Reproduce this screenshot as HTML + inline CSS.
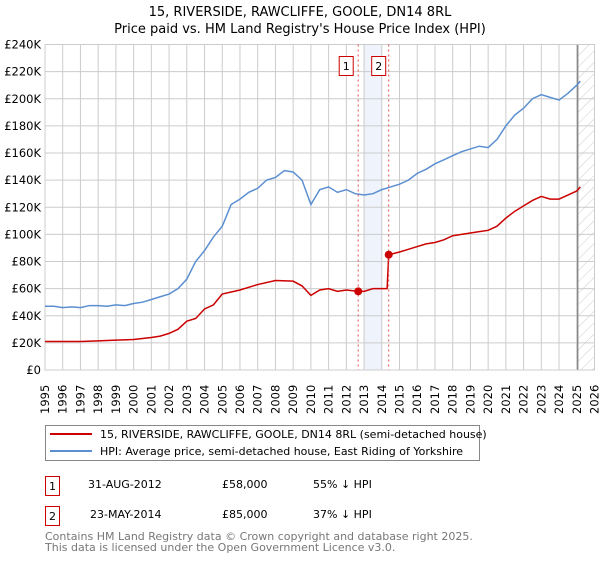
<!DOCTYPE html>
<html><head><meta charset="utf-8"><style>
body{margin:0;background:#fff;font-family:"Liberation Sans","DejaVu Sans",sans-serif;}
svg text{font-family:"DejaVu Sans","Liberation Sans",sans-serif;}
</style></head><body>
<svg id="chart" width="600" height="560" xmlns="http://www.w3.org/2000/svg">
<defs><pattern id="hatch" patternUnits="userSpaceOnUse" width="8" height="8" patternTransform="rotate(45)"><line x1="0" y1="0" x2="0" y2="8" stroke="#ccc" stroke-width="1"/></pattern></defs>
<text x="300" y="16" text-anchor="middle" font-size="13">15, RIVERSIDE, RAWCLIFFE, GOOLE, DN14 8RL</text>
<text x="300" y="33" text-anchor="middle" font-size="13">Price paid vs. HM Land Registry's House Price Index (HPI)</text>
<g id="grid"></g><g id="marks"></g>
<g>
<rect x="45.5" y="425.5" width="434" height="35" fill="#fff" stroke="#888"/>
<line x1="50" y1="434" x2="92" y2="434" stroke="#cc0000" stroke-width="2"/>
<text x="100" y="438" font-size="11">15, RIVERSIDE, RAWCLIFFE, GOOLE, DN14 8RL (semi-detached house)</text>
<line x1="50" y1="451" x2="92" y2="451" stroke="#5b8fd1" stroke-width="2"/>
<text x="100" y="455" font-size="11">HPI: Average price, semi-detached house, East Riding of Yorkshire</text>
</g>
<g font-size="11">
<rect x="45.5" y="476.5" width="14" height="19" fill="#fff" stroke="#cc0000"/><text x="52.5" y="490" text-anchor="middle">1</text>
<text x="88" y="488">31-AUG-2012</text><text x="222" y="488">£58,000</text><text x="313" y="488">55% ↓ HPI</text></g>
<g font-size="11">
<rect x="45.5" y="506.5" width="14" height="19" fill="#fff" stroke="#cc0000"/><text x="52.5" y="520" text-anchor="middle">2</text>
<text x="90" y="518">23-MAY-2014</text><text x="222" y="518">£85,000</text><text x="313" y="518">37% ↓ HPI</text></g>
<text x="45" y="540" font-size="11" fill="#777">Contains HM Land Registry data © Crown copyright and database right 2025.</text>
<text x="45" y="551" font-size="11" fill="#777">This data is licensed under the Open Government Licence v3.0.</text>
</svg>
<script>
const hpiYears=[1995,1995.5,1996,1996.5,1997,1997.5,1998,1998.5,1999,1999.5,2000,2000.5,2001,2001.5,2002,2002.5,2003,2003.5,2004,2004.5,2005,2005.5,2006,2006.5,2007,2007.5,2008,2008.5,2009,2009.5,2010,2010.5,2011,2011.5,2012,2012.5,2013,2013.5,2014,2014.5,2015,2015.5,2016,2016.5,2017,2017.5,2018,2018.5,2019,2019.5,2020,2020.5,2021,2021.5,2022,2022.5,2023,2023.5,2024,2024.5,2025,2025.2];
const hpiValues=[47,47,46,46.5,46,47.5,47.5,47,48,47.5,49,50,52,54,56,60,67,80,88,98,106,122,126,131,134,140,142,147,146,140,122,133,135,131,133,130,129,130,133,135,137,140,145,148,152,155,158,161,163,165,164,170,180,188,193,200,203,201,199,204,210,213];
const redYears=[1995,1996,1997,1998,1999,2000,2001,2001.5,2002,2002.5,2003,2003.5,2004,2004.5,2005,2006,2007,2008,2009,2009.5,2010,2010.5,2011,2011.5,2012,2012.67,2013,2013.5,2014.3,2014.39,2015,2015.5,2016,2016.5,2017,2017.5,2018,2018.5,2019,2019.5,2020,2020.5,2021,2021.5,2022,2022.5,2023,2023.5,2024,2024.5,2025,2025.2];
const redValues=[21,21,21,21.5,22,22.5,24,25,27,30,36,38,45,48,56,59,63,66,65.5,62,55,59,60,58,59,58,58,60,60,85,87,89,91,93,94,96,99,100,101,102,103,106,112,117,121,125,128,126,126,129,132,135];
const saleYears=[2012.67,2014.39];
const saleValues=[58,85];
const yTicks=[0,20,40,60,80,100,120,140,160,180,200,220,240];
const xTicks=[1995,1996,1997,1998,1999,2000,2001,2002,2003,2004,2005,2006,2007,2008,2009,2010,2011,2012,2013,2014,2015,2016,2017,2018,2019,2020,2021,2022,2023,2024,2025,2026];
const X0=45,X1=594.5,Y0=370,Y1=44.5;
const xs=y=>X0+(y-1995)/(2026-1995)*(X1-X0);
const ys=v=>Y0-v/240*(Y0-Y1);
const NS="http://www.w3.org/2000/svg";
function mk(p,t,a){const e=document.createElementNS(NS,t);for(const k in a)e.setAttribute(k,a[k]);p.appendChild(e);return e;}
const g=document.getElementById('grid'),m=document.getElementById('marks');
const sh=mk(g,'rect',{x:xs(2013),y:Y1,width:xs(2014)-xs(2013),height:Y0-Y1,fill:'#eef3fc'});


const ht=mk(g,'rect',{x:xs(2025.05),y:Y1,width:X1-xs(2025.05),height:Y0-Y1,fill:'url(#hatch)'});


yTicks.forEach(v=>{mk(g,'line',{x1:X0,x2:X1,y1:ys(v),y2:ys(v),stroke:'#ccc'});
const t=mk(g,'text',{x:X0-4,y:ys(v)+4,'text-anchor':'end','font-size':'11.5'});t.textContent='£'+(v?v+'K':'0');

});
xTicks.forEach(y=>{mk(g,'line',{x1:xs(y),x2:xs(y),y1:Y1,y2:Y0,stroke:'#ccc'});
const gg=mk(g,'g',{transform:'translate('+(xs(y)+4)+','+(Y0+44)+') rotate(-90)'});
const t=mk(gg,'text',{x:0,y:0,'font-size':'11.5'});t.textContent=y;

});
mk(g,'line',{x1:xs(2025.05),x2:xs(2025.05),y1:Y1,y2:Y0,stroke:'#888','stroke-width':1.5});
const hl=mk(m,'polyline',{points:hpiYears.map((y,i)=>xs(y)+','+ys(hpiValues[i])).join(' '),fill:'none',stroke:'#5b8fd1','stroke-width':1.5});


const rl=mk(m,'polyline',{points:redYears.map((y,i)=>xs(y)+','+ys(redValues[i])).join(' '),fill:'none',stroke:'#cc0000','stroke-width':1.5});


saleYears.forEach((y,i)=>{
mk(m,'line',{x1:xs(y),x2:xs(y),y1:Y1,y2:Y0,stroke:'#e05050','stroke-dasharray':'2,3'});
const d=mk(m,'circle',{cx:xs(y),cy:ys(saleValues[i]),r:4,fill:'#cc0000'});


const b=mk(m,'rect',{x:xs(y)-17+(i?0:-2),y:56.5,width:14,height:19,fill:'#fff',stroke:'#cc0000'});


const t=mk(m,'text',{x:xs(y)-10+(i?0:-2),y:70,'text-anchor':'middle','font-size':'11'});t.textContent=i+1;

});
mk(g,'rect',{x:X0,y:Y1,width:X1-X0,height:Y0-Y1,fill:'none',stroke:'#ccc'});
</script>
</body></html>
